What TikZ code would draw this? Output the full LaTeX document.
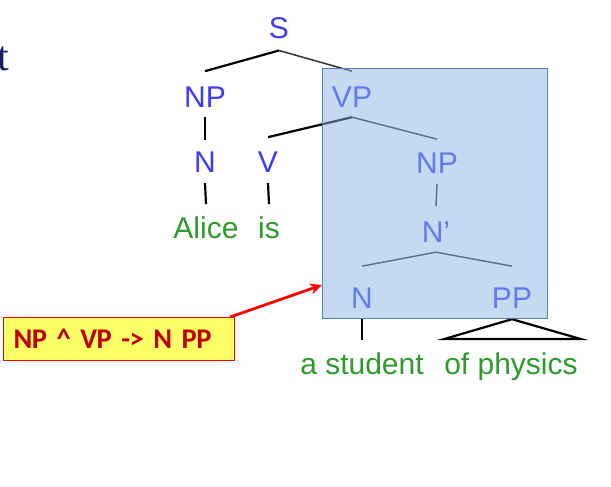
\documentclass[tikz,border=0pt]{standalone}
\usepackage{fontspec}
\setmainfont{Liberation Sans}
\newfontfamily\rulefont[WordSpace=0.6,LetterSpace=-1.5]{Carlito}
\newfontfamily\serifT{Liberation Serif}
\usetikzlibrary{arrows.meta}
\definecolor{tblue}{RGB}{60,60,255}
\definecolor{tgreen}{RGB}{45,155,45}
\definecolor{hlfill}{RGB}{140,180,226}
\definecolor{hlborder}{RGB}{79,129,189}
\definecolor{rulefill}{RGB}{255,255,102}
\definecolor{ruletext}{RGB}{192,0,0}
\definecolor{navyT}{RGB}{25,30,100}
\tikzset{
  cat/.style={inner sep=0pt, anchor=base, text=tblue, font=\fontsize{30}{32}\selectfont},
  word/.style={inner sep=0pt, anchor=base, text=tgreen, font=\fontsize{30}{32}\selectfont},
  branch/.style={draw=black, line width=2.2pt},
  thinbranch/.style={draw=black!80, line width=1.5pt},
  hl/.style={draw=hlborder, line width=1pt, fill=hlfill, fill opacity=0.5, inner sep=0pt},
  rulebox/.style={draw=red, line width=1.2pt, fill=rulefill, text=ruletext,
     font=\rulefont\bfseries\fontsize{28.5}{30}\selectfont, inner xsep=10pt, inner ysep=0pt,
     text width=211pt, align=left, minimum height=43pt, anchor=north west},
  pointer/.style={draw=red, line width=2.8pt, -{Stealth[length=12pt,width=11pt]}}
}
\begin{document}
\begin{tikzpicture}[x=1pt,y=-1pt]
\useasboundingbox (0,0) rectangle (611,487);
% cropped letter at left edge
\node[inner sep=0pt, anchor=base east, text=navyT, font=\serifT\fontsize{42}{44}\selectfont] (tt) at (9,71) {t};
% categories
\node[cat] (S) at (279,39) {S};
\node[cat] (NP1) at (205,107) {NP};
\node[cat] (VP) at (352,107) {VP};
\node[cat] (N1) at (205,172) {N};
\node[cat] (V) at (268,172) {V};
\node[cat] (NP2) at (437,173) {NP};
\node[cat] (Nbar) at (436,242) {N'};
\node[cat] (N2) at (362,308) {N};
\node[cat] (PP) at (512,308) {PP};
% words
\node[word] (alice) at (206,238) {Alice};
\node[word] (is) at (269,238) {is};
\node[word] (stud) at (362,374) {a student};
\node[word] (phys) at (511,374) {of physics};
% branches
\draw[branch] ([yshift=15pt]NP1.north) -- ([yshift=-11pt]S.south);
\draw[thinbranch] ([yshift=-11pt]S.south) -- ([yshift=15pt]VP.north);
\draw[branch] ([yshift=-10pt]NP1.south) -- ([yshift=11pt]N1.north);
\draw[branch] ([yshift=-11pt]N1.south) -- ([yshift=12pt]alice.north);
\draw[branch] ([yshift=-11pt]V.south) -- ([yshift=12pt]is.north);
\draw[branch] ([yshift=14pt]V.north) -- ([yshift=-10pt]VP.south);
\draw[thinbranch] ([yshift=-10pt]VP.south) -- ([yshift=13pt]NP2.north);
\draw[thinbranch] ([yshift=-11pt]NP2.south) -- ([yshift=15pt]Nbar.north);
\draw[thinbranch] ([yshift=21pt]N2.north) -- ([yshift=-10pt]Nbar.south) -- ([yshift=21pt]PP.north);
\draw[branch] ([yshift=-10pt]N2.south) -- ([yshift=12pt]stud.north);
\draw[branch, line join=miter] ([yshift=13pt]phys.north west) -- ([yshift=-11pt]PP.south) -- ([xshift=3pt,yshift=13pt]phys.north east) -- cycle;
% highlight box
\node[hl, minimum width=225pt, minimum height=250pt, anchor=north west] (box) at (322,68) {};
% rule box and pointer
\node[rulebox] (rule) at (3,317) {NP \^{} VP -> N PP};
\draw[pointer] ([xshift=-5pt]rule.north east) -- ([yshift=34pt]box.south west);
\end{tikzpicture}
\end{document}
